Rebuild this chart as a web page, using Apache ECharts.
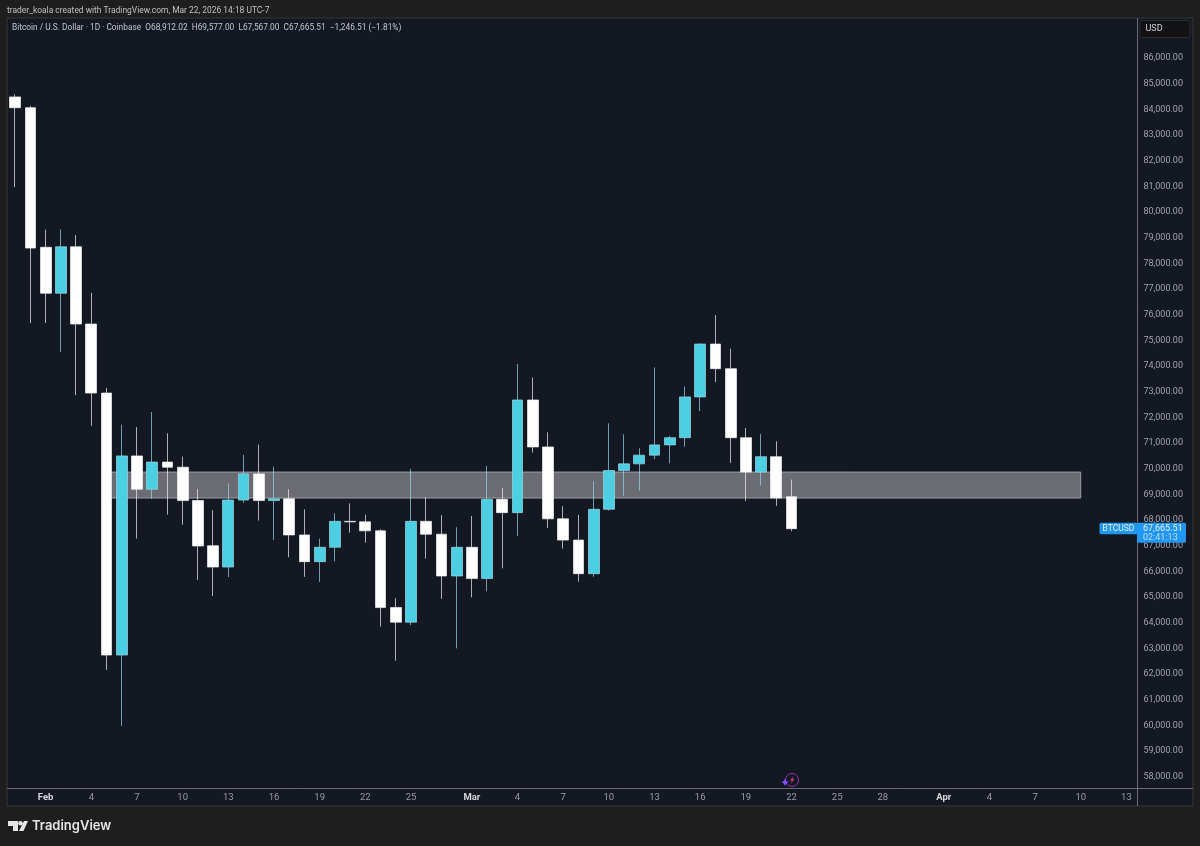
<!DOCTYPE html>
<html><head><meta charset="utf-8">
<style>html,body{margin:0;padding:0;background:#1e1e1e}#c{width:1200px;height:846px}</style>
<script src="https://cdn.jsdelivr.net/npm/echarts@6/dist/echarts.min.js"></script>
</head><body><div id="c"></div>
<script>
const categories = ['Jan 30','Jan 31',
'Feb 1','Feb 2','Feb 3','Feb 4','Feb 5','Feb 6','Feb 7','Feb 8','Feb 9','Feb 10','Feb 11','Feb 12','Feb 13','Feb 14','Feb 15','Feb 16','Feb 17','Feb 18','Feb 19','Feb 20','Feb 21','Feb 22','Feb 23','Feb 24','Feb 25','Feb 26','Feb 27','Feb 28',
'Mar 1','Mar 2','Mar 3','Mar 4','Mar 5','Mar 6','Mar 7','Mar 8','Mar 9','Mar 10','Mar 11','Mar 12','Mar 13','Mar 14','Mar 15','Mar 16','Mar 17','Mar 18','Mar 19','Mar 20','Mar 21','Mar 22','Mar 23','Mar 24','Mar 25','Mar 26','Mar 27','Mar 28','Mar 29','Mar 30','Mar 31',
'Apr 1','Apr 2','Apr 3','Apr 4','Apr 5','Apr 6','Apr 7','Apr 8','Apr 9','Apr 10','Apr 11','Apr 12','Apr 13'];
const opens = [84490,84070,78630,76840,78650,75640,72950,62740,70500,69200,70260,70060,68760,67000,66170,68780,69800,68760,68830,67420,66380,66940,67950,67930,67580,64590,64020,67950,67450,65820,66940,65720,68810,68290,72680,70850,68050,67220,65910,68420,69930,70190,70530,70930,71210,72800,74860,73900,71210,69870,70470,68912.02];
const closes = [84070,78600,76840,78650,75640,72950,62740,70500,69200,70260,70060,68760,66990,66170,68780,69800,68760,68830,67420,66380,66940,67950,67930,67580,64590,64020,67950,67450,65820,66940,65720,68810,68290,72680,70850,68050,67220,65910,68420,69930,70190,70530,70930,71210,72800,74860,73900,71210,69870,70470,68860,67665.51];
const lows = [80980,75680,75680,74550,72870,71670,62160,59980,67280,68820,68210,67820,65670,65040,65780,68680,67980,67220,66550,65790,65590,66390,67510,67120,63850,62520,63910,66500,64930,63000,64990,65230,66120,67380,70630,67690,66890,65600,65790,68370,68950,69150,70370,70210,70860,72250,73380,70220,68740,69340,68550,67567];
const highs = [84590,84140,79320,79330,79110,76860,73150,71710,71630,72210,71380,70470,69210,68380,69430,70540,70940,70080,69200,68420,67280,68270,68650,68210,67640,64960,70000,68890,68190,67720,68160,70110,69250,74080,73560,71420,68540,68200,69520,71770,71340,70800,73950,71280,73200,74890,75990,74680,71590,71360,71070,69577];
const zoneTop = 69870, zoneBottom = 68860, zoneStart = 'Feb 5', zoneEnd = 'Apr 10';
const xTickDates  = ['Feb 1','Feb 4','Feb 7','Feb 10','Feb 13','Feb 16','Feb 19','Feb 22','Feb 25','Mar 1','Mar 4','Mar 7','Mar 10','Mar 13','Mar 16','Mar 19','Mar 22','Mar 25','Mar 28','Apr 1','Apr 4','Apr 7','Apr 10','Apr 13'];
const xTickLabels = ['Feb','4','7','10','13','16','19','22','25','Mar','4','7','10','13','16','19','22','25','28','Apr','4','7','10','13'];
const monthLabels = ['Feb','Mar','Apr'];
const lastClose = 67665.51;
const chartNote = 'trader_koala created with TradingView.com, Mar 22, 2026 14:18 UTC-7';
const legendText = 'Bitcoin / U.S. Dollar · 1D · Coinbase  O68,912.02  H69,577.00  L67,567.00  C67,665.51  −1,246.51 (−1.81%)';

const FONT = 'Roboto, "Noto Sans", sans-serif';
const UP = '#4ccfe3', DOWN = '#ffffff';
const chart = echarts.init(document.getElementById('c'), null, {renderer:'canvas'});
const line = (x1,y1,x2,y2,c)=>({type:'line',z:-1,silent:true,shape:{x1,y1,x2,y2},style:{stroke:c,lineWidth:1}});
const txt = (x,y,t,o)=>({type:'text',x,y,silent:true,z:20,style:Object.assign({text:t,font:'9px '+FONT,fill:'#c8c9cd',textVerticalAlign:'middle'},o||{})});

chart.setOption({
  animation:false,
  backgroundColor:'#1e1e1e',
  grid:{left:7.6,top:19.7,width:1126.4,height:769.8,containLabel:false},
  xAxis:{type:'category',data:categories,boundaryGap:true,
    axisLine:{show:false},axisTick:{show:false},splitLine:{show:false},
    axisLabel:{margin:3,fontFamily:FONT,fontSize:9.5,color:'#9a9ca3',hideOverlap:false,
      interval:(i,v)=>xTickDates.includes(v),
      formatter:v=>{const k=xTickDates.indexOf(v);if(k<0)return '';const l=xTickLabels[k];return monthLabels.includes(l)?'{m|'+l+'}':l;},
      rich:{m:{fontFamily:FONT,fontSize:9.5,fontWeight:'bold',color:'#d6d7da'}}}},
  yAxis:{type:'value',position:'right',offset:3.4,min:57500,max:87500,interval:500,scale:true,
    axisLine:{show:false},axisTick:{show:false},splitLine:{show:false},
    axisLabel:{margin:6,fontFamily:FONT,fontSize:9,color:'#a2a4ab',showMinLabel:false,showMaxLabel:false,
      formatter:v=>(v%1000!==0||v>86000)?'':v.toLocaleString('en-US',{minimumFractionDigits:2,maximumFractionDigits:2})}},
  series:[{type:'candlestick',barWidth:11.3,clip:false,
    data:opens.map((o,i)=>[o,closes[i],lows[i],highs[i]]),
    itemStyle:{color:UP,color0:DOWN,borderColor:'#98d8e4',borderColor0:'#f2f2f2',borderWidth:0.7},
    markArea:{silent:true,z:1,
      itemStyle:{color:'#6a6b73',borderColor:'#9c9da3',borderWidth:1},
      data:[[{xAxis:zoneStart,yAxis:zoneTop},{xAxis:zoneEnd,yAxis:zoneBottom}]]}}]
});

const py = chart.convertToPixel({yAxisIndex:0},lastClose);
const ix = chart.convertToPixel({xAxisIndex:0},'Mar 22');
chart.setOption({graphic:[
  {type:'rect',z:-2,silent:true,shape:{x:7,y:18,width:1186,height:788},style:{fill:'#131823',stroke:'#34363b',lineWidth:1}},
  line(7,788.5,1193,788.5,'#6a6c72'),
  line(1137.5,18,1137.5,806,'#6a6c72'),
  {type:'rect',z:3,silent:true,shape:{x:1140,y:20.5,width:50,height:17,r:2},style:{fill:'#121214',stroke:'#2c2d31',lineWidth:1}},
  txt(1145.5,29,'USD',{font:'9px '+FONT,fill:'#d1d2d6'}),
  txt(7,10.5,chartNote,{font:'8.45px '+FONT,fill:'#bfc0c3'}),
  txt(12,28,legendText,{font:'8.33px '+FONT,fill:'#c3c6cc'}),
  {type:'rect',z:4,silent:true,shape:{x:1099.5,y:py-6,width:38,height:11.5,r:1.5},style:{fill:'#2196f3'}},
  {type:'rect',z:4,silent:true,shape:{x:1137,y:py-6,width:49,height:20,r:1.5},style:{fill:'#2196f3'}},
  txt(1102.5,py-0.2,'BTCUSD',{font:'8.5px '+FONT,fill:'#e3f1fd'}),
  txt(1143,py-0.2,'67,665.51',{font:'9px '+FONT,fill:'#e3f1fd'}),
  txt(1143,py+8.8,'02:41:13',{font:'9px '+FONT,fill:'#b9dcf9'}),
  {type:'circle',z:5,silent:true,shape:{cx:ix+0.5,cy:780,r:6.5},style:{fill:'#131823',stroke:'#9a2fb0',lineWidth:1}},
  {type:'polygon',z:6,silent:true,shape:{points:[[ix+2,776],[ix-1.5,780.5],[ix+0.5,780.5],[ix-1,784],[ix+3,779],[ix+1,779]]},style:{fill:'#c2408a'}},
  {type:'polygon',z:6,silent:true,shape:{points:[[ix-6.5,778.5],[ix-5.2,781],[ix-3,782.3],[ix-5.2,783.5],[ix-6.5,786],[ix-7.8,783.5],[ix-10,782.3],[ix-7.8,781]]},style:{fill:'#7c4dff'}},
  {type:'polygon',z:6,silent:true,shape:{points:[[8,821],[18,821],[18,831],[13,831],[13,826],[8,826]]},style:{fill:'#e6e6e6'}},
  {type:'circle',z:6,silent:true,shape:{cx:20.5,cy:823.3,r:2.3},style:{fill:'#e6e6e6'}},
  {type:'polygon',z:6,silent:true,shape:{points:[[24,821],[28,821],[23.5,831],[19,831]]},style:{fill:'#e6e6e6'}},
  txt(32,826.5,'TradingView',{font:'600 13px Inter, sans-serif',fill:'#e6e6e6'})
]});
</script></body></html>
